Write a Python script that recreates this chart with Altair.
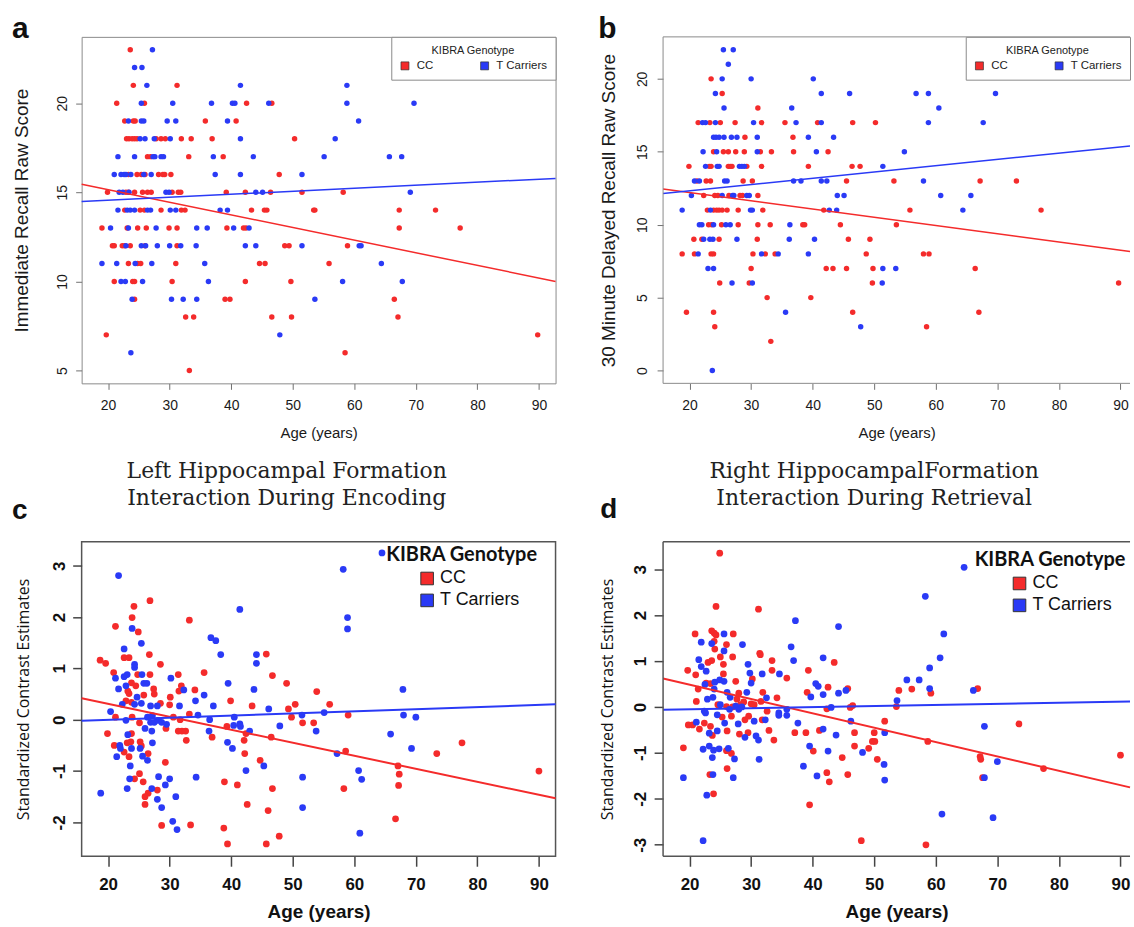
import altair as alt
import pandas as pd

RED = "#F42B2B"
BLUE = "#2A3AF6"
GROUPS = ["CC", "T Carriers"]
AGE_TICKS = [20, 30, 40, 50, 60, 70, 80, 90]
AGE_DOMAIN_L = [15.7, 92.7]   # left column panels (a, c)
AGE_DOMAIN_R = [15.7, 91.55]  # right column panels (b, d), cut by the right edge of the figure
SANS = "Liberation Sans"
HUMAN = "Lato"
HUMAN2 = "Open Sans"
SERIF = "DejaVu Serif"

# ---------------- panel a: immediate recall (age, score) ----------------
A_CC = [(23.6, 23), (24.1, 21), (31.2, 21), (21.4, 20), (25.9, 20), (42.5, 20), (46.6, 20),
        (22.7, 19), (24.1, 19), (24.4, 19), (35.8, 19), (40.8, 19),
        (23.0, 18), (23.4, 18), (23.9, 18), (24.3, 18), (24.7, 18), (27.8, 18), (28.6, 18), (29.3, 18),
        (31.9, 18), (33.5, 18), (36.9, 18), (50.3, 18),
        (26.4, 17), (26.9, 17), (33.1, 17), (38.7, 17),
        (23.3, 16), (24.7, 16), (25.4, 16), (26.0, 16), (28.2, 16), (28.9, 16), (29.2, 16), (30.2, 16), (47.8, 16),
        (19.9, 15), (22.9, 15), (23.3, 15), (24.3, 15), (25.6, 15), (26.4, 15), (27.0, 15), (30.4, 15),
        (31.4, 15), (31.8, 15), (39.2, 15), (42.3, 15), (46.4, 15), (51.5, 15), (58.2, 15),
        (22.7, 14), (25.2, 14), (25.9, 14), (28.6, 14), (31.9, 14), (32.5, 14), (43.3, 14), (45.4, 14),
        (45.8, 14), (53.4, 14), (53.6, 14), (67.3, 14), (73.2, 14),
        (19.0, 13), (23.1, 13), (24.8, 13), (26.2, 13), (29.9, 13), (31.2, 13), (39.3, 13), (42.0, 13),
        (42.4, 13), (67.3, 13), (77.2, 13),
        (20.7, 12), (21.0, 12), (22.3, 12), (22.7, 12), (23.6, 12), (26.0, 12), (31.2, 12), (48.7, 12),
        (49.4, 12), (58.9, 12),
        (23.3, 11), (24.8, 11), (25.3, 11), (31.0, 11), (44.6, 11), (45.5, 11), (55.9, 11),
        (21.0, 10), (24.0, 10), (24.3, 10), (30.4, 10), (42.3, 10), (49.7, 10),
        (24.3, 9), (39.0, 9), (39.8, 9), (66.5, 9),
        (32.6, 8), (33.9, 8), (46.6, 8), (49.8, 8), (67.1, 8),
        (19.7, 7), (89.8, 7), (58.5, 6), (33.2, 5)]
A_T = [(27.2, 23), (24.3, 22), (25.5, 22), (26.3, 21), (41.5, 21), (58.8, 21),
       (25.4, 20), (30.5, 20), (36.8, 20), (40.2, 20), (40.6, 20), (46.1, 20), (58.8, 20), (69.7, 20),
       (23.3, 19), (25.4, 19), (25.8, 19), (29.6, 19), (31.0, 19), (39.4, 19), (60.7, 19),
       (25.2, 18), (26.0, 18), (27.5, 18), (30.1, 18), (41.5, 18), (56.9, 18),
       (21.6, 17), (24.3, 17), (27.3, 17), (27.6, 17), (28.6, 17), (29.0, 17), (37.1, 17), (43.6, 17),
       (55.1, 17), (65.7, 17), (67.7, 17),
       (21.0, 16), (22.1, 16), (22.6, 16), (22.9, 16), (23.7, 16), (25.8, 16), (27.0, 16), (37.4, 16),
       (41.5, 16), (51.5, 16),
       (21.8, 15), (22.4, 15), (23.4, 15), (29.4, 15), (29.9, 15), (44.0, 15), (45.1, 15), (69.1, 15),
       (21.6, 14), (23.1, 14), (23.6, 14), (24.3, 14), (26.4, 14), (26.9, 14), (30.1, 14), (31.0, 14),
       (38.2, 14), (39.4, 14),
       (20.4, 13), (23.3, 13), (27.8, 13), (34.4, 13), (36.1, 13), (40.4, 13), (42.9, 13),
       (22.9, 12), (25.4, 12), (26.1, 12), (28.0, 12), (30.0, 12), (31.8, 12), (34.3, 12), (42.3, 12),
       (44.0, 12), (51.5, 12), (60.8, 12), (61.1, 12),
       (19.0, 11), (21.4, 11), (24.4, 11), (27.1, 11), (35.7, 11), (64.4, 11),
       (22.1, 10), (22.8, 10), (25.6, 10), (36.3, 10), (58.1, 10), (67.8, 10),
       (23.9, 9), (30.3, 9), (32.2, 9), (34.4, 9), (53.6, 9), (47.9, 7), (23.7, 6)]
A_FIT_CC = [15.45, 10.0]      # fitted line at the two ends of the panel's age domain
A_FIT_T = [14.48, 15.78]
A_YDOM = [4.28, 23.72]
A_YTICKS = [5, 10, 15, 20]

# ---------------- panel b: 30 minute delayed recall ----------------
B_CC = [(23.5, 20), (25.3, 19), (31.1, 18),
        (21.4, 17), (23.3, 17), (25.0, 17), (27.4, 17), (31.7, 17), (35.5, 17), (40.8, 17), (46.5, 17), (50.2, 17),
        (29.0, 16), (36.8, 16),
        (23.9, 15), (25.5, 15), (26.3, 15), (27.5, 15), (28.9, 15), (31.5, 15), (33.3, 15), (36.9, 15), (42.5, 15),
        (19.9, 14), (23.2, 14), (23.5, 14), (26.3, 14), (26.6, 14), (26.9, 14), (29.3, 14), (31.7, 14),
        (39.3, 14), (46.4, 14), (47.7, 14),
        (21.2, 13), (22.7, 13), (23.4, 13), (28.7, 13), (30.2, 13), (45.5, 13), (53.2, 13), (67.2, 13), (73.1, 13),
        (22.3, 12), (24.1, 12), (24.6, 12), (26.4, 12), (28.2, 12), (28.6, 12), (31.1, 12),
        (22.9, 11), (23.9, 11), (24.4, 11), (24.8, 11), (25.3, 11), (26.1, 11), (27.9, 11), (31.9, 11),
        (41.8, 11), (55.8, 11), (77.1, 11),
        (23.1, 10), (23.6, 10), (25.2, 10), (27.9, 10), (31.1, 10), (33.1, 10), (38.4, 10), (38.7, 10),
        (44.5, 10), (53.6, 10),
        (20.7, 9), (22.0, 9), (24.8, 9), (31.0, 9), (45.8, 9), (49.3, 9),
        (18.8, 8), (20.8, 8), (23.5, 8), (23.9, 8), (30.3, 8), (32.3, 8), (33.9, 8), (48.7, 8), (58.0, 8), (58.9, 8),
        (30.0, 7), (42.2, 7), (43.3, 7), (45.5, 7), (49.8, 7), (66.4, 7),
        (24.9, 6), (29.7, 6), (49.7, 6), (89.7, 6),
        (32.6, 5), (39.7, 5), (19.5, 4), (23.9, 4), (46.5, 4), (67.0, 4),
        (24.1, 3), (58.5, 3), (33.2, 2)]
B_T = [(25.5, 22), (27.1, 22), (26.3, 21), (25.3, 20), (30.0, 20), (40.1, 20),
       (24.2, 19), (41.4, 19), (46.0, 19), (56.8, 19), (58.8, 19), (69.7, 19),
       (25.6, 18), (36.6, 18), (60.5, 18),
       (22.1, 17), (22.6, 17), (24.2, 17), (30.4, 17), (37.3, 17), (41.4, 17), (58.8, 17), (67.7, 17),
       (23.9, 16), (24.3, 16), (24.8, 16), (25.6, 16), (26.8, 16), (27.7, 16), (31.0, 16), (39.3, 16), (43.4, 16),
       (22.2, 15), (24.4, 15), (31.0, 15), (40.6, 15), (54.9, 15),
       (22.6, 14), (24.5, 14), (24.8, 14), (28.1, 14), (28.5, 14), (28.9, 14), (51.4, 14),
       (20.8, 13), (21.6, 13), (25.7, 13), (26.1, 13), (36.9, 13), (38.1, 13), (41.4, 13), (42.3, 13), (58.0, 13),
       (20.3, 12), (25.3, 12), (27.0, 12), (27.2, 12), (29.3, 12), (29.7, 12), (44.0, 12), (45.1, 12),
       (60.8, 12), (65.7, 12),
       (18.8, 11), (23.4, 11), (29.9, 11), (30.2, 11), (42.7, 11), (43.9, 11), (64.4, 11),
       (21.6, 10), (22.0, 10), (23.9, 10), (25.9, 10), (26.6, 10), (36.3, 10),
       (22.3, 9), (23.3, 9), (23.8, 9), (27.7, 9), (36.2, 9), (40.3, 9),
       (21.4, 8), (31.7, 8), (34.4, 8), (39.3, 8),
       (23.0, 7), (23.9, 7), (51.4, 7), (53.5, 7), (26.9, 6), (30.2, 6), (51.3, 6),
       (35.6, 4), (47.8, 3), (23.7, 0)]
B_FIT_CC = [12.45, 8.16]
B_FIT_T = [12.14, 15.40]
B_YDOM = [-0.88, 22.88]
B_YTICKS = [0, 5, 10, 15, 20]

# ---------------- panel c: left hippocampal formation, encoding ----------------
C_CC = [(26.8, 2.32), (24.2, 2.21), (23.9, 1.99), (33.2, 1.94), (21.2, 1.82), (24.9, 1.71), (26.7, 1.27),
        (45.7, 1.28), (22.6, 1.21), (23.4, 1.21), (18.7, 1.16), (19.6, 1.10), (28.5, 1.08), (20.9, 0.92),
        (24.8, 0.88), (26.8, 0.88), (31.4, 0.88), (35.6, 0.92), (46.7, 0.86), (49.0, 0.71), (23.8, 0.72),
        (24.5, 0.66), (31.9, 0.66), (27.4, 0.60), (23.2, 0.56), (23.4, 0.51), (31.5, 0.56), (34.1, 0.58),
        (53.9, 0.55), (25.8, 0.48), (27.5, 0.50), (30.1, 0.44), (22.9, 0.37), (39.9, 0.37), (28.5, 0.32),
        (23.8, 0.34), (30.0, 0.29), (43.4, 0.27), (50.4, 0.30), (56.0, 0.30), (49.3, 0.21), (33.2, 0.11),
        (21.2, 0.05), (59.0, 0.09), (23.9, 0.05), (25.1, -0.06), (30.6, 0.05), (31.7, 0.00), (39.3, -0.13),
        (49.8, 0.05), (51.6, -0.06), (53.4, -0.06), (73.4, -0.66), (77.5, -0.45), (90.0, -1.00), (58.6, -0.61),
        (58.3, -1.34), (67.1, -0.90), (67.3, -1.06), (67.2, -1.28), (66.7, -1.93), (46.5, -0.34), (46.7, -1.34),
        (46.0, -1.77), (45.7, -2.42), (47.8, -2.27), (44.7, -0.79), (42.4, -0.27), (42.1, -0.40), (42.2, -0.66),
        (42.6, -1.65), (41.0, -1.27), (38.9, -1.21), (38.8, -2.11), (39.4, -2.42), (33.4, -2.05), (36.9, -0.34),
        (32.0, -0.22), (32.6, -0.22), (32.7, -0.40), (31.4, -0.22), (28.7, -2.06), (28.0, -1.37), (29.3, -0.83),
        (29.4, -0.17), (26.5, -0.66), (26.5, -1.43), (26.0, -1.50), (26.0, -1.65), (25.7, -1.21), (25.2, -0.43),
        (25.4, -0.51), (25.1, -1.05), (24.3, -1.15), (23.4, -0.72), (22.6, -0.63), (23.8, -0.27), (23.7, -0.43),
        (23.1, -0.45), (21.0, -0.50), (19.9, -0.27)]
C_T = [(64.5, 3.25), (21.7, 2.81), (58.2, 2.93), (41.4, 2.15), (58.9, 1.99), (58.9, 1.77), (23.9, 1.78),
       (36.7, 1.60), (37.5, 1.54), (25.4, 1.49), (22.6, 1.38), (38.3, 1.27), (44.1, 1.27), (44.1, 1.10),
       (24.3, 1.08), (24.3, 1.02), (21.2, 0.81), (22.6, 0.84), (23.1, 0.88), (25.5, 0.88), (30.2, 0.81),
       (39.5, 0.71), (25.8, 0.71), (26.3, 0.71), (21.7, 0.60), (22.9, 0.66), (32.3, 0.58), (43.7, 0.59),
       (67.9, 0.59), (35.6, 0.48), (24.7, 0.44), (34.2, 0.37), (22.3, 0.30), (24.3, 0.30), (25.4, 0.32),
       (26.9, 0.27), (28.0, 0.27), (31.6, 0.27), (37.1, 0.27), (46.1, 0.21), (20.4, 0.16), (55.1, 0.14),
       (68.0, 0.09), (70.0, 0.05), (51.5, 0.09), (34.6, 0.09), (40.5, 0.05), (22.9, -0.01), (26.4, 0.05),
       (26.9, -0.05), (27.2, 0.08), (27.5, -0.05), (28.1, -0.01), (28.7, -0.05), (29.5, -0.09), (36.5, 0.00),
       (40.4, -0.11), (41.4, -0.08), (41.5, -0.13), (43.0, -0.22), (47.9, -0.12), (53.8, -0.22), (65.9, -0.28),
       (69.3, -0.56), (57.2, -0.66), (60.7, -0.99), (61.2, -1.16), (60.9, -2.21), (51.6, -1.12), (51.6, -1.71),
       (45.3, -0.90), (42.4, -0.99), (39.4, -0.44), (40.2, -0.56), (34.3, -1.12), (36.4, -0.22), (31.0, -1.50),
       (30.5, -1.98), (31.2, -2.14), (30.0, -1.15), (29.3, -1.27), (28.7, -1.71), (28.2, -1.11), (28.0, -1.55),
       (27.2, -0.45), (27.1, -0.22), (27.1, -1.34), (26.4, -0.79), (26.0, -0.17), (25.6, -0.71), (25.2, -0.56),
       (23.5, -1.15), (23.1, -1.34), (23.6, -0.90), (23.8, -0.56), (23.2, -0.29), (21.9, -0.50), (22.0, -0.56),
       (21.4, -0.72), (18.8, -1.43)]
C_FIT_CC = [0.42, -1.53]
C_FIT_T = [-0.02, 0.30]
C_YDOM = [-2.66, 3.47]
C_YTICKS = [-2, -1, 0, 1, 2, 3]

# ---------------- panel d: right hippocampal formation, retrieval ----------------
D_CC = [(24.9, 3.35), (24.3, 2.19), (31.2, 2.13), (20.9, 1.59), (23.6, 1.66), (24.0, 1.61), (24.3, 1.57),
        (27.1, 1.59), (24.0, 1.43), (26.0, 1.36), (24.1, 1.26), (31.4, 1.17), (31.5, 1.14), (27.0, 1.09),
        (25.0, 1.09), (33.4, 1.01), (43.5, 0.97), (23.0, 0.97), (23.6, 1.01), (25.5, 0.93), (19.7, 0.80),
        (21.0, 0.70), (25.5, 0.72), (33.4, 0.80), (39.3, 0.80), (27.5, 0.56), (22.7, 0.52), (23.4, 0.51),
        (35.8, 0.63), (30.2, 0.61), (42.5, 0.43), (21.4, 0.39), (28.0, 0.30), (31.9, 0.32), (39.1, 0.32),
        (45.7, 0.40), (54.0, 0.36), (56.1, 0.39), (59.2, 0.30), (66.8, 0.40), (21.1, 0.12), (27.7, 0.17),
        (28.8, 0.11), (30.0, 0.07), (34.2, 0.20), (31.6, 0.12), (53.6, 0.01), (46.5, 0.03), (46.1, -0.01),
        (42.3, -0.04), (32.6, -0.09), (26.0, 0.01), (27.0, 0.00), (28.3, 0.05), (30.5, 0.05), (24.6, 0.05),
        (19.0, -0.89), (19.8, -0.39), (20.5, -0.39), (21.6, -0.48), (22.4, -0.35), (23.4, -0.42), (23.7, -0.62),
        (23.3, -1.47), (23.9, -1.89), (25.3, -0.22), (26.1, -0.52), (26.0, -0.95), (26.1, -1.34), (26.8, -1.01),
        (26.8, -0.20), (28.1, -0.59), (29.5, -0.56), (29.0, -0.28), (29.6, -0.20), (31.8, -0.28), (32.9, -0.51),
        (33.7, -0.72), (37.1, -0.56), (38.9, -0.56), (39.5, -2.13), (40.1, -0.96), (41.1, -0.51), (42.3, -1.43),
        (42.7, -1.63), (44.8, -1.10), (45.7, -1.47), (46.8, -0.56), (46.8, -0.85), (47.9, -2.91), (49.1, -0.90),
        (49.7, -0.75), (50.1, -0.75), (50.0, -0.56), (50.5, -1.14), (51.7, -0.31), (58.7, -0.75), (58.4, -3.00),
        (67.2, -1.08), (67.3, -1.14), (67.6, -1.54), (73.5, -0.37), (77.5, -1.34), (90.0, -1.05)]
D_T = [(64.6, 3.04), (58.3, 2.41), (37.2, 1.88), (44.2, 1.75), (25.6, 1.59), (61.3, 1.59), (21.9, 1.41),
       (23.6, 1.38), (28.6, 1.36), (36.5, 1.31), (25.6, 1.22), (41.7, 1.07), (60.7, 1.07), (36.9, 1.01),
       (21.5, 1.03), (29.5, 0.93), (21.9, 0.88), (22.7, 0.78), (31.8, 0.72), (29.8, 0.74), (34.6, 0.72),
       (59.0, 0.85), (24.9, 0.59), (24.1, 0.54), (25.6, 0.56), (22.5, 0.49), (30.0, 0.52), (55.3, 0.59),
       (57.3, 0.59), (40.5, 0.51), (40.9, 0.45), (24.0, 0.39), (26.1, 0.32), (29.3, 0.32), (39.7, 0.22),
       (41.7, 0.27), (44.2, 0.30), (45.4, 0.36), (59.0, 0.40), (66.1, 0.36), (22.9, 0.17), (23.8, 0.21),
       (26.6, 0.21), (32.5, 0.20), (53.7, 0.14), (43.0, -0.01), (35.8, -0.05), (34.5, -0.13), (22.4, -0.09),
       (25.0, 0.05), (26.5, -0.05), (27.5, 0.02), (28.0, -0.05), (28.5, 0.00),
       (19.0, -1.54), (21.1, -0.33), (22.6, -0.13), (22.2, -0.92), (22.8, -1.92), (22.2, -2.91), (23.2, -0.57),
       (23.2, -0.85), (23.8, -1.47), (23.7, -1.10), (23.9, -0.94), (24.5, -0.52), (24.5, -0.17), (24.8, -0.91),
       (25.7, -0.35), (26.3, -0.90), (27.3, -1.13), (27.1, -1.54), (27.9, -0.37), (29.0, -0.66), (30.5, -0.31),
       (30.8, -0.63), (31.2, -0.72), (31.3, -1.14), (32.3, -0.28), (34.5, -0.18), (35.8, -0.18), (37.6, -0.35),
       (38.5, -1.29), (39.5, -0.85), (40.7, -1.50), (41.7, -0.48), (42.5, -0.96), (43.8, -0.61), (46.2, -0.31),
       (48.1, -0.99), (51.7, -0.56), (51.6, -1.25), (51.7, -1.59), (61.0, -2.33), (67.9, -1.54), (67.9, -0.42),
       (70.0, -1.19), (69.3, -2.41)]
D_FIT_CC = [0.62, -1.75]
D_FIT_T = [-0.06, 0.12]
D_YDOM = [-3.25, 3.60]
D_YTICKS = [-3, -2, -1, 0, 1, 2, 3]

TITLE_C = ["Left Hippocampal Formation", "Interaction During Encoding"]
TITLE_D = ["Right HippocampalFormation", "Interaction During Retrieval"]


def points_df(cc, tc):
    rows = [{"age": a, "val": v, "g": "CC"} for a, v in cc]
    rows += [{"age": a, "val": v, "g": "T Carriers"} for a, v in tc]
    return pd.DataFrame(rows)


def fit_df(xdom, cc_y, t_y):
    return pd.DataFrame({"age": list(xdom) + list(xdom),
                         "val": cc_y + t_y,
                         "g": ["CC", "CC", "T Carriers", "T Carriers"]})


def text_layer(label, x, y, align="left", **kw):
    return alt.Chart(pd.DataFrame({"t": [label]})).mark_text(
        align=align, baseline="alphabetic", **kw
    ).encode(text="t:N", x=alt.value(x), y=alt.value(y))


def corner_anchor(x, y):
    # invisible rectangle that fixes the top-left corner of the whole figure
    return alt.Chart(pd.DataFrame({"t": [0]})).mark_rect(opacity=0).encode(
        x=alt.value(x), x2=alt.value(x + 4), y=alt.value(y), y2=alt.value(y + 4))


def open_frame(w, h, color, sw):
    # box without its right side (that side lies beyond the figure's right edge)
    base = alt.Chart(pd.DataFrame({"t": [0]})).mark_rule(color=color, strokeWidth=sw)
    return [base.encode(x=alt.value(0), y=alt.value(0), y2=alt.value(h)),
            base.encode(x=alt.value(0), x2=alt.value(w), y=alt.value(0)),
            base.encode(x=alt.value(0), x2=alt.value(w), y=alt.value(h))]


def panel(points, fits, xdom, ydom, xaxis, yaxis, legend, size, lw, frame, fw, texts, w, h, open_right=False):
    xenc = alt.X("age:Q", scale=alt.Scale(domain=xdom, nice=False, zero=False), axis=xaxis)
    yenc = alt.Y("val:Q", scale=alt.Scale(domain=ydom, nice=False, zero=False), axis=yaxis)
    pts = alt.Chart(points).mark_circle(size=size, opacity=1).encode(
        x=xenc, y=yenc,
        color=alt.Color("g:N", scale=alt.Scale(domain=GROUPS, range=[RED, BLUE]), legend=legend),
    )
    lines = [
        alt.Chart(fits).transform_filter(alt.datum.g == g).mark_line(color=c, strokeWidth=lw).encode(x=xenc, y=yenc)
        for g, c in [("CC", RED), ("T Carriers", BLUE)]
    ]
    if open_right:
        view = alt.ViewBackground(strokeWidth=0)
        extra = open_frame(w, h, frame, fw)
    else:
        view = alt.ViewBackground(stroke=frame, strokeWidth=fw)
        extra = []
    return alt.layer(pts, *lines, *extra, *texts).properties(width=w, height=h, view=view)


def ab_xaxis():
    return alt.Axis(values=AGE_TICKS, title="Age (years)", grid=False, domain=False, tickSize=6,
                    tickColor="#707070", labelFont=SANS, labelFontSize=14, labelColor="#1a1a1a",
                    labelPadding=9, labelFlush=False, titleFont=SANS, titleFontSize=15,
                    titleFontWeight="normal", titleColor="#1a1a1a", titlePadding=13)


def ab_yaxis(ticks, title, lp, tp):
    return alt.Axis(values=ticks, title=title, grid=False, domain=False, tickSize=6, tickColor="#707070",
                    labelAngle=270, labelAlign="center", labelBaseline="alphabetic", labelPadding=lp,
                    labelFont=SANS, labelFontSize=14, labelColor="#1a1a1a",
                    titleFont=SANS, titleFontSize=19, titleFontWeight="normal", titleColor="#1a1a1a",
                    titlePadding=tp)


def cd_xaxis():
    return alt.Axis(values=AGE_TICKS, title="Age (years)", grid=False, domain=False, tickSize=10,
                    tickWidth=1.5, tickColor="#444444", labelFont=SANS, labelFontSize=17,
                    labelFontWeight="bold", labelColor="#111111", labelPadding=10, labelFlush=False,
                    titleFont=SANS, titleFontSize=19, titleFontWeight="bold", titleColor="#111111",
                    titlePadding=11)


def cd_yaxis(ticks, lp, tp):
    return alt.Axis(values=ticks, title="Standardized Contrast Estimates", grid=False, domain=False,
                    tickSize=9, tickWidth=1.5, tickColor="#444444",
                    labelAngle=270, labelAlign="center", labelBaseline="alphabetic", labelPadding=lp,
                    labelFont=SANS, labelFontSize=17, labelFontWeight="bold", labelColor="#111111",
                    labelExpr="'' + datum.value",
                    titleFont=HUMAN2, titleFontSize=16, titleFontWeight="normal", titleColor="#111111",
                    titlePadding=tp)


def ab_legend():
    return alt.Legend(title="KIBRA Genotype", orient="top-right", offset=0, direction="horizontal",
                      columns=2, titleAnchor="middle", titleFont=SANS, titleFontSize=11,
                      titleFontWeight="normal", titleColor="#222222", titlePadding=4,
                      labelFont=SANS, labelFontSize=11.5, labelColor="#222222", labelOffset=6,
                      symbolType="square", symbolSize=64, symbolStrokeColor="#333333",
                      symbolStrokeWidth=0.7, fillColor="white", strokeColor="#8a8a8a",
                      padding=8, columnPadding=45)


def cd_legend(lx, ly):
    return alt.Legend(title=None, orient="none", legendX=lx, legendY=ly, direction="vertical",
                      labelFont=SANS, labelFontSize=18, labelColor="#111111", labelOffset=4,
                      symbolType="square", symbolSize=160, symbolStrokeColor="#333333",
                      symbolStrokeWidth=1, rowPadding=4, padding=0)


LETTER = dict(font=SANS, fontWeight="bold", color="#111111")
LEG_TITLE = dict(font=HUMAN, fontSize=20, fontWeight="bold", color="#111111")
HEAD = dict(font=SERIF, fontSize=22, fontWeight="normal", color="#222222")

W_L, W_R = 476, 469

pa = panel(points_df(A_CC, A_T), fit_df(AGE_DOMAIN_L, A_FIT_CC, A_FIT_T), AGE_DOMAIN_L, A_YDOM,
           ab_xaxis(), ab_yaxis(A_YTICKS, "Immediate Recall Raw Score", 9, 24), ab_legend(),
           30, 1.5, "#8a8a8a", 1,
           [text_layer("a", -70, 1, fontSize=30, **LETTER), corner_anchor(-81, -34)], W_L, 348)

pb = panel(points_df(B_CC, B_T), fit_df(AGE_DOMAIN_R, B_FIT_CC, B_FIT_T), AGE_DOMAIN_R, B_YDOM,
           ab_xaxis(), ab_yaxis(B_YTICKS, "30 Minute Delayed Recall Raw Score", 11, 17), ab_legend(),
           30, 1.5, "#8a8a8a", 1,
           [text_layer("b", -65, 1, fontSize=30, **LETTER)], W_R, 348, open_right=True)

pc = panel(points_df(C_CC, C_T), fit_df(AGE_DOMAIN_L, C_FIT_CC, C_FIT_T), AGE_DOMAIN_L, C_YDOM,
           cd_xaxis(), cd_yaxis(C_YTICKS, 8, 19), cd_legend(338, 28),
           46, 2, "#555555", 1.5,
           [text_layer("c", -70, -23, fontSize=28, **LETTER),
            text_layer("KIBRA Genotype", 306, 19, **LEG_TITLE),
            text_layer(TITLE_C[0], 206, -64, align="center", **HEAD),
            text_layer(TITLE_C[1], 206, -37, align="center", **HEAD)], W_L, 316)

pd_ = panel(points_df(D_CC, D_T), fit_df(AGE_DOMAIN_R, D_FIT_CC, D_FIT_T), AGE_DOMAIN_R, D_YDOM,
            cd_xaxis(), cd_yaxis(D_YTICKS, 9, 16), cd_legend(349, 33),
            46, 2, "#555555", 1.5,
            [text_layer("d", -63, -24, fontSize=28, **LETTER),
             text_layer("KIBRA Genotype", 313, 24, **LEG_TITLE),
             text_layer(TITLE_D[0], 212, -64, align="center", **HEAD),
             text_layer(TITLE_D[1], 212, -37, align="center", **HEAD)], W_R, 316, open_right=True)

chart = alt.concat(pa, pb, pc, pd_, columns=2, spacing={"row": 159, "column": 108}, bounds="flush").properties(
    padding={"left": 0, "top": 0, "right": 0, "bottom": 0}
).configure(background="white")

chart.save("out.html", embed_options={"renderer": "svg", "actions": False})
